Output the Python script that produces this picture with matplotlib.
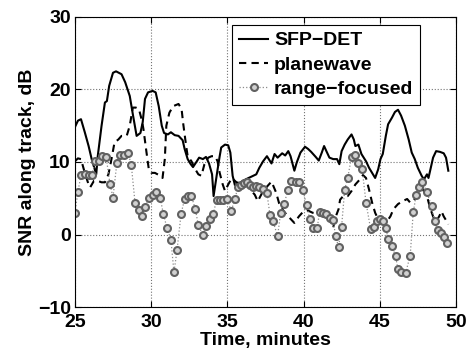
import matplotlib
matplotlib.use("Agg")
import matplotlib.pyplot as plt

plt.rcParams["font.family"] = ["Liberation Sans", "DejaVu Sans"]
plt.rcParams["font.weight"] = "bold"

# =========================
# 資料
# =========================
sfp_t = [25.0, 25.2, 25.4, 25.65, 25.9, 26.1, 26.4, 26.5, 26.75, 26.97,
         27.1, 27.25, 27.5, 27.7, 28.06, 28.3, 28.6, 28.8, 29.05, 29.3,
         29.45, 29.6, 29.8, 30.1, 30.3, 30.5, 30.7, 30.85, 31.1, 31.3,
         31.55, 31.8, 32.07, 32.2, 32.4, 32.6, 32.75, 33.0, 33.15, 33.4,
         33.6, 33.8, 34.0, 34.1, 34.2, 34.35, 34.5, 34.6, 34.85, 35.06,
         35.2, 35.35, 35.5, 35.8, 36.2, 36.4, 36.6, 36.9, 37.1, 37.35,
         37.6, 37.75, 37.9, 38.1, 38.3, 38.6, 38.8, 39.0, 39.15, 39.4,
         39.55, 39.8, 40.1, 40.3, 40.5, 40.8, 41.0, 41.2, 41.35, 41.5,
         41.7, 41.95, 42.2, 42.35, 42.5, 42.7, 42.9, 43.15, 43.3, 43.4,
         43.6, 43.8, 44.1, 44.3, 44.5, 44.7, 44.9, 45.05, 45.2, 45.4,
         45.55, 45.8, 46.0, 46.2, 46.4, 46.65, 46.9, 47.1, 47.3, 47.5,
         47.75, 47.9, 48.1, 48.2, 48.35, 48.5, 48.7, 48.95, 49.2, 49.35,
         49.5]
sfp_snr = [14.8, 15.7, 15.9, 14.1, 12.2, 10.4, 8.3, 10.8, 15.0, 18.2,
           18.4, 20.5, 22.3, 22.5, 22.1, 21.0, 19.1, 16.6, 13.6, 14.0,
           15.5, 18.7, 19.6, 19.8, 19.6, 17.7, 15.0, 14.0, 13.8, 14.1,
           13.7, 13.6, 13.0, 11.8, 10.4, 9.7, 9.3, 10.1, 10.6, 10.4,
           10.7, 9.8, 8.3, 5.3, 6.7, 8.8, 10.8, 12.0, 12.4, 12.3,
           11.3, 8.1, 6.8, 7.1, 7.6, 7.8, 8.0, 8.3, 9.2, 10.1,
           10.8, 10.3, 9.8, 11.1, 10.6, 11.2, 10.9, 11.5, 10.8, 8.8,
           9.9, 11.3, 12.1, 11.8, 11.4, 10.7, 10.2, 11.3, 12.2, 11.5,
           10.6, 10.4, 10.4, 9.7, 11.5, 12.4, 13.1, 13.8, 13.1, 12.2,
           12.4, 11.1, 10.1, 9.2, 8.5, 7.8, 9.0, 10.4, 11.1, 13.6,
           15.2, 16.1, 16.9, 17.2, 16.4, 15.0, 13.1, 11.3, 10.4, 9.2,
           8.1, 7.6, 8.3, 7.8, 9.2, 10.6, 11.5, 11.4, 11.2, 10.6,
           8.8]

pw_t = [25.0, 25.2, 25.4, 25.65, 25.9, 26.0, 26.25, 26.5, 26.75, 26.97,
        27.2, 27.4, 27.6, 27.85, 28.06, 28.4, 28.6, 28.8, 29.0, 29.2,
        29.4, 29.5, 29.7, 29.85, 30.03, 30.25, 30.6, 30.75, 30.9, 31.0,
        31.2, 31.45, 31.8, 32.0, 32.1, 32.3, 32.4, 32.65, 32.9, 33.1,
        33.3, 33.5, 33.75, 33.97, 34.2, 34.36, 34.5, 34.7, 34.85, 35.06,
        35.3, 35.6, 36.0, 36.3, 36.5, 36.8, 37.0, 37.3, 37.6, 37.9,
        38.2, 38.4, 38.7, 39.0, 39.4, 39.7, 40.0, 40.3, 40.6, 40.9,
        41.2, 41.4, 41.65, 41.85, 41.95, 42.05, 42.3, 42.4, 42.6, 42.9,
        43.15, 43.4, 43.7, 43.9, 44.1, 44.3, 44.5, 44.7, 44.9, 45.1,
        45.4, 45.7, 45.9, 46.2, 46.5, 46.8, 47.0, 47.2, 47.4, 47.6,
        47.85, 48.1, 48.3, 48.5, 48.7, 48.9, 49.05, 49.2, 49.4, 49.5]
pw_snr = [10.1, 10.5, 10.4, 8.5, 6.9, 6.5, 7.4, 7.4, 7.2, 7.2,
          8.3, 10.4, 12.7, 13.1, 13.6, 13.6, 15.0, 17.5, 17.5, 17.3,
          15.7, 14.5, 11.3, 9.0, 8.5, 8.5, 8.1, 7.8, 10.4, 15.0,
          16.8, 17.7, 18.0, 17.3, 15.4, 12.2, 10.8, 10.1, 9.0, 8.3,
          8.1, 9.7, 10.6, 10.8, 10.8, 10.1, 8.5, 6.9, 6.0, 6.9,
          7.8, 7.2, 7.0, 6.8, 6.2, 5.5, 4.6, 5.8, 6.6, 7.3,
          5.8, 4.3, 3.2, 2.5, 1.6, 2.5, 3.2, 3.3, 3.0, 2.9,
          2.8, 3.0, 2.5, 1.6, 0.9, 2.1, 3.5, 4.8, 5.3, 5.3,
          6.0, 6.9, 7.6, 8.2, 7.8, 6.2, 4.4, 3.0, 2.1, 1.8,
          1.6, 2.5, 3.5, 4.2, 4.6, 4.9, 4.4, 4.6, 5.2, 5.9,
          6.2, 5.3, 3.7, 2.5, 1.8, 2.5, 3.2, 2.5, 1.8, 1.4]

rf_t = [25.0, 25.2, 25.4, 25.65, 25.9, 26.1, 26.35, 26.6, 26.8, 27.05,
        27.3, 27.5, 27.75, 27.97, 28.2, 28.5, 28.7, 28.95, 29.2, 29.4,
        29.6, 29.85, 30.1, 30.3, 30.6, 30.8, 31.04, 31.3, 31.5, 31.7,
        31.97, 32.2, 32.4, 32.65, 32.9, 33.1, 33.4, 33.6, 33.85, 34.07,
        34.3, 34.5, 34.7, 35.0, 35.25, 35.5, 35.7, 35.9, 36.1, 36.3,
        36.5, 36.7, 36.9, 37.1, 37.35, 37.6, 37.8, 38.0, 38.3, 38.5,
        38.7, 39.0, 39.2, 39.5, 39.7, 39.95, 40.2, 40.4, 40.65, 40.9,
        41.05, 41.3, 41.5, 41.75, 41.95, 42.1, 42.3, 42.5, 42.7, 42.9,
        43.15, 43.4, 43.6, 43.85, 44.1, 44.4, 44.6, 44.8, 45.0, 45.2,
        45.4, 45.55, 45.8, 46.04, 46.2, 46.4, 46.7, 47.0, 47.2, 47.4,
        47.6, 47.8, 48.1, 48.4, 48.6, 48.8, 49.0, 49.2, 49.4]
rf_snr = [3.0, 5.9, 8.2, 8.4, 8.2, 8.2, 10.1, 10.1, 10.8, 10.7,
          7.0, 5.1, 9.8, 10.9, 11.0, 11.2, 9.6, 4.3, 3.4, 2.6,
          3.8, 5.1, 5.4, 5.9, 5.0, 2.9, 0.9, -0.7, -5.2, -2.2,
          2.9, 4.9, 5.3, 5.3, 3.5, 1.3, -0.1, 1.2, 2.1, 2.8,
          4.8, 4.8, 4.8, 4.9, 3.2, 4.9, 6.6, 6.8, 7.1, 7.2,
          6.8, 6.5, 6.7, 6.5, 6.3, 5.7, 2.7, 1.8, -0.2, 3.0,
          4.2, 6.1, 7.4, 7.3, 7.2, 6.2, 4.1, 2.2, 0.9, 0.9,
          3.1, 3.0, 2.8, 2.3, 2.0, -0.2, -1.7, 1.1, 6.2, 7.8,
          10.7, 10.9, 9.8, 9.0, 4.4, 0.8, 1.1, 1.8, 2.1, 1.8,
          0.9, -0.6, -1.6, -3.0, -4.8, -5.1, -5.3, -2.9, 3.1, 5.5,
          6.6, 7.2, 5.8, 3.9, 1.8, 0.6, 0.2, -0.3, -1.2]

x_ticks = [25, 30, 35, 40, 45, 50]
y_ticks = [-10, 0, 10, 20, 30]

# =========================
# 畫圖
# =========================
fig = plt.figure(figsize=(4.71, 3.6), dpi=100)
ax = fig.add_axes([0.159, 0.147, 0.809, 0.806])

ax.plot(sfp_t, sfp_snr, color="black", linewidth=1.5, label="SFP\u2212DET")
ax.plot(pw_t, pw_snr, color="black", linewidth=1.5, linestyle=(0, (3.5, 2.5)),
        label="planewave")
ax.plot(rf_t, rf_snr, color="0.55", linewidth=0.9, linestyle=":",
        marker="o", markersize=5, markerfacecolor="0.82",
        markeredgecolor="0.38", markeredgewidth=1.5, label="range\u2212focused")

ax.set_xlim(25, 50)
ax.set_ylim(-10, 30)
ax.set_xticks(x_ticks)
ax.set_yticks(y_ticks)
ax.tick_params(direction="in", top=True, right=True, labelsize=14,
               length=4, width=0.8)
ax.tick_params(axis="x", pad=5)
ax.tick_params(axis="y", pad=3)
for lbl in ax.get_xticklabels() + ax.get_yticklabels():
    lbl.set_fontweight("bold")
ax.grid(True, linestyle=":", color="0.45", linewidth=0.8)
for s in ax.spines.values():
    s.set_linewidth(0.8)

ax.set_xlabel("Time, minutes", fontsize=14, fontweight="bold", labelpad=1)
ax.set_ylabel("SNR along track, dB", fontsize=14, fontweight="bold", labelpad=1)

leg = ax.legend(loc="upper right", bbox_to_anchor=(0.906, 0.972),
                fontsize=14, handlelength=1.5, handletextpad=0.3,
                labelspacing=0.35, borderpad=0.35, borderaxespad=0,
                fancybox=False, framealpha=1, edgecolor="black")
leg.get_frame().set_linewidth(0.8)
for t in leg.get_texts():
    t.set_fontweight("bold")

fig.savefig("out.png", dpi=100)
